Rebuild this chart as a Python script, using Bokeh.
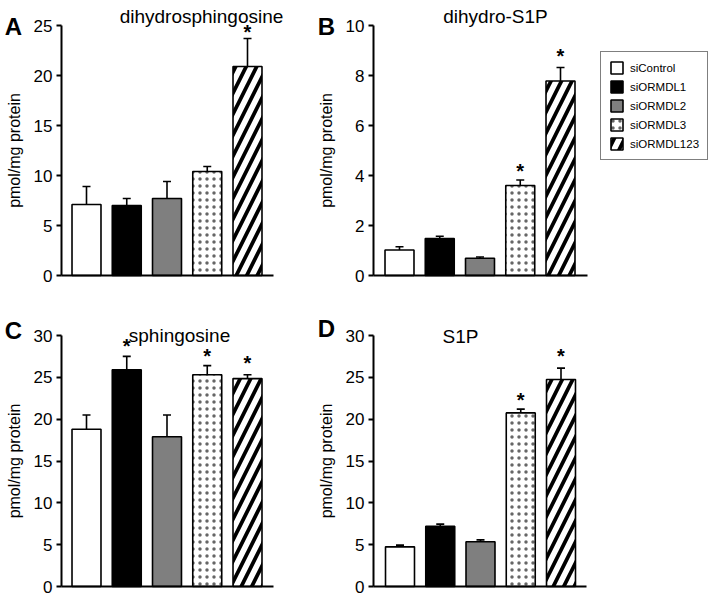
from bokeh.plotting import figure
from bokeh.layouts import row, column
from bokeh.models import (ColumnDataSource, Whisker, TeeHead, Label, Legend,
                          LegendItem, FixedTicker, Range1d)
from bokeh.core.properties import value
from bokeh.embed import file_html
from bokeh.resources import INLINE

# ---------------- data ----------------
groups = ["siControl", "siORMDL1", "siORMDL2", "siORMDL3", "siORMDL123"]
positions = [1, 2, 3, 4, 5]

dhsph_mean = [7.1, 7.0, 7.7, 10.4, 20.9]
dhsph_upper = [8.9, 7.7, 9.4, 10.9, 23.7]

dhs1p_mean = [1.02, 1.48, 0.69, 3.6, 7.78]
dhs1p_upper = [1.15, 1.57, 0.74, 3.82, 8.32]

sph_mean = [18.8, 25.9, 17.9, 25.3, 24.85]
sph_upper = [20.5, 27.5, 20.5, 26.4, 25.3]

s1p_mean = [4.74, 7.2, 5.35, 20.75, 24.75]
s1p_upper = [4.95, 7.45, 5.57, 21.2, 26.1]

# significance markers (group position, height of the asterisk)
dhsph_star_x = [5]
dhsph_star_y = [24.4]
dhs1p_star_x = [4, 5]
dhs1p_star_y = [4.2, 8.8]
sph_star_x = [2, 4, 5]
sph_star_y = [28.8, 27.5, 26.7]
s1p_star_x = [4, 5]
s1p_star_y = [22.3, 27.5]

ticks_a = [0, 5, 10, 15, 20, 25]
ticks_b = [0, 2, 4, 6, 8, 10]
ticks_cd = [0, 5, 10, 15, 20, 25, 30]

# ---------------- styles ----------------
FONT = "Liberation Sans"
fill_colors = ["white", "black", "#7f7f7f", "white", "white"]
hatch_patterns = [" ", " ", " ", "dot", "right_diagonal_line"]
hatch_colors = ["black", "black", "black", "#666666", "black"]
hatch_scales = [12, 12, 12, 7, 21]
hatch_weights = [1, 1, 1, 1.1, 3.8]


def panel(width, height, xr, yr, axis_x, axis_x_end, ymax, yticks,
          means, uppers, star_x, star_y, title, title_pos, letter, letter_pos,
          legend=None):
    p = figure(width=width, height=height, x_range=Range1d(*xr),
               y_range=Range1d(*yr), output_backend="svg",
               toolbar_location=None, title=None,
               min_border_left=0, min_border_right=0,
               min_border_top=0, min_border_bottom=0)
    p.outline_line_color = None
    p.grid.visible = False
    p.background_fill_color = "white"
    p.border_fill_color = "white"

    src = ColumnDataSource(dict(x=positions, top=means, group=groups,
                                fill=fill_colors, hp=hatch_patterns,
                                hc=hatch_colors, hs=hatch_scales,
                                hw=hatch_weights))
    r = p.vbar(x="x", top="top", bottom=0, width=0.72, source=src,
               fill_color="fill", line_color="black", line_width=1.6,
               hatch_pattern="hp", hatch_color="hc", hatch_scale="hs",
               hatch_weight="hw")

    wsrc = ColumnDataSource(dict(x=positions, lower=means, upper=uppers))
    w = Whisker(source=wsrc, base="x", lower="lower", upper="upper",
                dimension="height", line_width=1.6, line_color="black",
                upper_head=TeeHead(size=8, line_width=1.6, line_color="black"),
                lower_head=None, level="overlay")
    p.add_layout(w)

    p.text(x=star_x, y=star_y, text=["*"] * len(star_x), text_align="center",
           text_baseline="middle", text_font=value(FONT),
           text_font_size="20px", text_font_style="bold", text_color="black")

    ya = p.yaxis[0]
    ya.fixed_location = axis_x
    ya.bounds = (0, ymax)
    ya.ticker = FixedTicker(ticks=yticks)
    ya.axis_line_width = 2
    ya.major_tick_line_width = 2
    ya.major_tick_out = 5
    ya.major_tick_in = 0
    ya.minor_tick_line_color = None
    ya.major_label_standoff = 4
    ya.major_label_text_font = FONT
    ya.major_label_text_font_size = "17px"
    ya.major_label_text_color = "black"
    ya.axis_label = "pmol/mg protein"
    ya.axis_label_text_font = FONT
    ya.axis_label_text_font_size = "16px"
    ya.axis_label_text_font_style = "normal"
    ya.axis_label_text_color = "black"
    ya.axis_label_standoff = 8

    xa = p.xaxis[0]
    xa.fixed_location = 0
    xa.bounds = (axis_x, axis_x_end)
    xa.ticker = FixedTicker(ticks=[])
    xa.axis_line_width = 2
    xa.major_tick_out = 0
    xa.major_tick_in = 0
    xa.minor_tick_line_color = None
    xa.major_label_standoff = 0

    p.add_layout(Label(x=title_pos[0], y=title_pos[1], x_units="screen",
                       y_units="screen", text=title,
                       text_align="center", text_baseline="alphabetic",
                       text_font=FONT, text_font_size="19px",
                       text_color="black"))
    p.add_layout(Label(x=letter_pos[0], y=letter_pos[1], x_units="screen",
                       y_units="screen", text=letter, text_align="center",
                       text_baseline="alphabetic", text_font=FONT,
                       text_font_size="24px", text_font_style="bold",
                       text_color="black"))

    if legend is not None:
        items = [LegendItem(label=g, renderers=[r], index=i)
                 for i, g in enumerate(groups)]
        lg = Legend(items=items, location=legend, margin=0, padding=8,
                    spacing=4, glyph_width=15, glyph_height=15,
                    label_height=15, label_standoff=6,
                    label_text_font=FONT, label_text_font_size="11.5px",
                    label_text_color="black",
                    border_line_color="black", border_line_width=1.5,
                    background_fill_color="white", background_fill_alpha=1)
        p.add_layout(lg)
    return p


PITCH = 40.25  # pixels per category step

# panel A: 312 x 300 px, y: 10 px / unit, zero line 25 px above bottom
xa0 = 1 - 86 / PITCH
pA = panel(312, 300, (xa0, xa0 + 312 / PITCH), (-2.5, 27.5),
           xa0 + 61 / PITCH, xa0 + 273 / PITCH, 25, ticks_a,
           dhsph_mean, dhsph_upper, dhsph_star_x, dhsph_star_y,
           "dihydrosphingosine", (201, 284), "A", (13, 274))

# panel B: 398 x 300 px, y: 25 px / unit
xb0 = 1 - 87 / PITCH
pB = panel(398, 300, (xb0, xb0 + 398 / PITCH), (-1.0, 11.0),
           xb0 + 61 / PITCH, xb0 + 275 / PITCH, 10, ticks_b,
           dhs1p_mean, dhs1p_upper, dhs1p_star_x, dhs1p_star_y,
           "dihydro-S1P", (183, 284), "B", (14, 274), legend=(288, 140))

# panels C, D: 297 px tall, 251 px for 30 units, zero line 11 px above bottom
ppu = 251 / 30
yc = (-11 / ppu, 286 / ppu)
pC = panel(312, 297, (xa0, xa0 + 312 / PITCH), yc,
           xa0 + 61 / PITCH, xa0 + 273 / PITCH, 30, ticks_cd,
           sph_mean, sph_upper, sph_star_x, sph_star_y,
           "sphingosine", (179, 262), "C", (13, 267))

xd0 = 1 - 87.5 / PITCH
pD = panel(398, 297, (xd0, xd0 + 398 / PITCH), yc,
           xd0 + 61 / PITCH, xd0 + 274 / PITCH, 30, ticks_cd,
           s1p_mean, s1p_upper, s1p_star_x, s1p_star_y,
           "S1P", (148, 261), "D", (14, 269))

layout = column(row(pA, pB), row(pC, pD))

with open("out.html", "w") as f:
    f.write(file_html(layout, INLINE))
